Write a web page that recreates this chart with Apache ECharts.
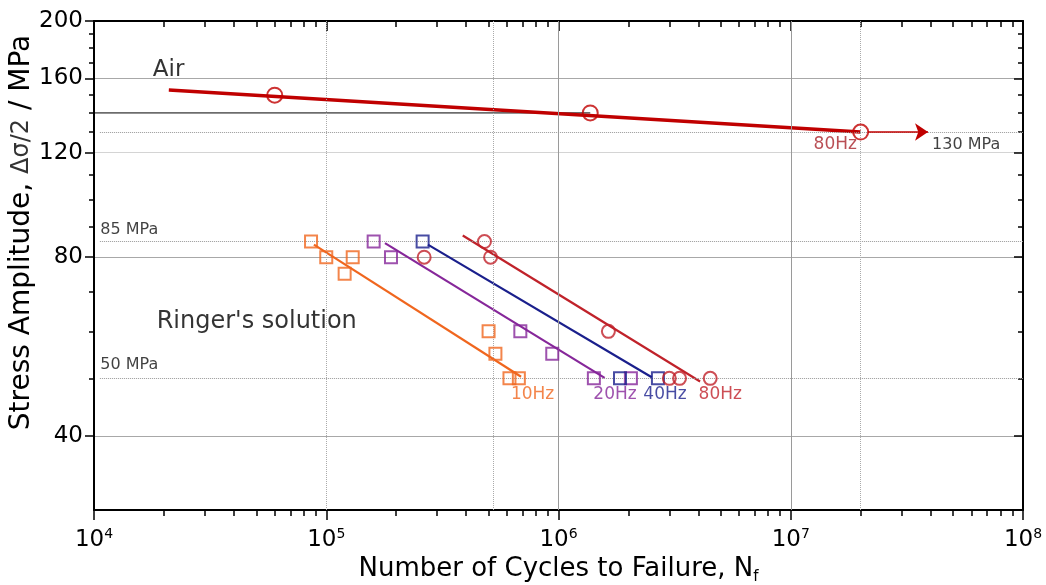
<!DOCTYPE html>
<html><head><meta charset="utf-8">
<script src="https://cdn.jsdelivr.net/npm/echarts@6/dist/echarts.min.js"></script>
<style>html,body{margin:0;padding:0;background:#fff}#c{width:1046px;height:585px}</style>
</head><body><div id="c"></div>
<script>
// ---------- data (cycles N_f, stress amplitude MPa) ----------
const xMajorTicks = [1e4, 1e5, 1e6, 1e7, 1e8];
const xMinorTicks = [2e4,3e4,4e4,5e4,6e4,7e4,8e4,9e4,
                     2e5,3e5,4e5,5e5,6e5,7e5,8e5,9e5,
                     2e6,3e6,4e6,5e6,6e6,7e6,8e6,9e6,
                     2e7,3e7,4e7,5e7,6e7,7e7,8e7,9e7];
const yMajorTicks = [40, 80, 120, 160, 200];
const yMinorTicks = [50, 60, 70, 90, 100, 110, 130, 140, 150, 170, 180, 190];
const xRange = [1e4, 1e8];
const yRange = [30, 200];

const airCycles = [6.0e4, 1.37e6, 2.0e7];
const airStress = [150, 140, 130];
const airFitCycles = [2.1e4, 2.0e7];
const airFitStress = [153, 130];
const airArrowCycles = [2.15e7, 3.9e7];
const airArrowStress = [130, 130];

const hz10Cycles = [8.6e4, 1.0e5, 1.3e5, 1.2e5, 5.0e5, 5.35e5, 6.15e5, 6.75e5];
const hz10Stress = [85, 80, 80, 75, 60, 55, 50, 50];
const hz10FitCycles = [8.85e4, 6.9e5];
const hz10FitStress = [84, 50.3];

const hz20Cycles = [1.6e5, 1.9e5, 6.85e5, 9.4e5, 1.42e6, 2.05e6];
const hz20Stress = [85, 80, 60, 55, 50, 50];
const hz20FitCycles = [1.79e5, 1.58e6];
const hz20FitStress = [84.5, 50.1];

const hz40Cycles = [2.6e5, 1.84e6, 2.68e6];
const hz40Stress = [85, 50, 50];
const hz40FitCycles = [2.74e5, 2.52e6];
const hz40FitStress = [84, 50.2];

const hz80Cycles = [2.64e5, 4.8e5, 5.1e5, 1.64e6, 3.0e6, 3.32e6, 4.5e6];
const hz80Stress = [80, 85, 80, 60, 50, 50, 50];
const hz80FitCycles = [3.87e5, 4.07e6];
const hz80FitStress = [87, 49.4];

// reference lines
const refDottedStress = [130, 85, 50];
const refDottedCycles = [1.06e4, 1e8];
const refDottedVertCycles = [1e5, 5.2e5, 2e7];
const refSolidVertCycles = [1e6, 1e7];
const blackLineCycles = [8.4e3, 1.37e6];
const blackLineStress = [140, 140];

// annotations
const annoText = ['Air', "Ringer's solution", '85 MPa', '50 MPa', '130 MPa', '80Hz', '10Hz', '20Hz', '40Hz', '80Hz'];
const annoCycles = [1.8e4, 1.87e4, 1.07e4, 1.07e4, 4.08e7, 1.26e7, 6.27e5, 1.42e6, 2.33e6, 4.03e6];
const annoStress = [165, 62.2, 88.9, 52.5, 123.6, 123.6, 46.9, 46.9, 46.9, 46.9];

// ---------- styles ----------
const FONT = 'DejaVu Sans, Liberation Sans, Arial, sans-serif';
const C_ORANGE = '#F0661E', C_PURPLE = '#86279A', C_NAVY = '#1A1F8C', C_RED = '#C0222A', C_AIR = '#C00000';
const annoSize = [23, 24, 16, 16, 16, 17, 17, 17, 17, 17];
const annoColor = ['#000', '#000', '#111', '#111', '#111', '#A8232A', C_ORANGE, C_PURPLE, C_NAVY, C_RED];

const lg = v => Math.log10(v);
const pts = (xs, ys) => xs.map((x, i) => [lg(x), lg(ys[i])]);

function scatter(name, xs, ys, symbol, size, color) {
  return { name, type: 'scatter', data: pts(xs, ys), symbol, symbolSize: size, z: 5,
    itemStyle: { color: 'rgba(255,255,255,0)', borderColor: color, borderWidth: 2 } };
}
function fit(name, xs, ys, color, width) {
  return { name, type: 'line', data: pts(xs, ys), symbol: 'none', z: 4,
    lineStyle: { color, width } };
}

const xMin = lg(xRange[0]), xMax = lg(xRange[1]);
const yMin = lg(yRange[0]), yMax = lg(yRange[1]);

function xAx(pos, ticks, len, inside, opts) {
  return Object.assign({ type: 'value', position: pos, min: xMin, max: xMax,
    axisLine: { show: false, onZero: false },
    axisTick: { show: true, inside, length: len, customValues: ticks.map(lg), lineStyle: { color: '#000', width: 1.5 } },
    axisLabel: { show: false }, splitLine: { show: false } }, opts || {});
}
function yAx(pos, ticks, len, inside, opts) {
  return Object.assign({ type: 'value', position: pos, min: yMin, max: yMax,
    axisLine: { show: false, onZero: false },
    axisTick: { show: true, inside, length: len, customValues: ticks.map(lg), lineStyle: { color: '#000', width: 1.5 } },
    axisLabel: { show: false }, splitLine: { show: false } }, opts || {});
}

const axisLineStyle = { show: true, onZero: false, lineStyle: { color: '#000', width: 2 } };

const option = {
  animation: false,
  backgroundColor: '#fff',
  grid: { left: 94, right: 23, top: 21, bottom: 75, containLabel: false, outerBoundsMode: 'none' },
  xAxis: [
    xAx('bottom', xMajorTicks, 10, false, {
      axisLine: axisLineStyle,
      axisLabel: { show: true, customValues: xMajorTicks.map(lg), margin: 17,
        formatter: v => '{b|10}{e|' + Math.round(v) + '}',
        rich: { b: { fontSize: 23, fontFamily: FONT, color: '#000', lineHeight: 26 },
                e: { fontSize: 14, fontFamily: FONT, color: '#000', lineHeight: 14, verticalAlign: 'top' } } },
      name: '{a|Number of Cycles to Failure, N}{s|f}', nameLocation: 'middle', nameGap: 41,
      nameTextStyle: { rich: { a: { fontSize: 26, fontFamily: FONT, color: '#000', lineHeight: 30 },
                               s: { fontSize: 15, fontFamily: FONT, color: '#000', lineHeight: 16, verticalAlign: 'bottom' } } }
    }),
    xAx('bottom', xMinorTicks, 6, false),
    xAx('top', xMajorTicks, 10, true, { axisLine: axisLineStyle }),
    xAx('top', xMinorTicks, 6, true)
  ],
  yAxis: [
    yAx('left', yMajorTicks, 9, false, {
      axisLine: axisLineStyle,
      axisLabel: { show: true, customValues: yMajorTicks.map(lg), margin: 11,
        formatter: v => String(Math.round(Math.pow(10, v))),
        fontSize: 23, fontFamily: FONT, color: '#000' },
      splitLine: { show: true, lineStyle: { color: ['#a8a8a8', '#a8a8a8', '#d4d4d4', '#a8a8a8', '#a8a8a8'], width: 1 } },
      name: '{a|Stress Amplitude, }{b|Δσ/2}{a| / MPa}', nameLocation: 'middle', nameGap: 58, nameRotate: 90,
      nameMoveOverlap: false,
      nameTextStyle: { padding: [0, 0, 0, 66],
        rich: { a: { fontSize: 28, fontFamily: FONT, color: '#000' },
                b: { fontSize: 24, fontFamily: FONT, color: '#333' } } }
    }),
    yAx('left', yMinorTicks, 5, false),
    yAx('right', yMajorTicks, 9, true, { axisLine: axisLineStyle }),
    yAx('right', yMinorTicks, 5, true)
  ],
  series: [
    { name: 'refs', type: 'line', data: [], z: 1, silent: true,
      markLine: { silent: true, symbol: ['none', 'none'], label: { show: false }, animation: false,
        data: [].concat(
          refDottedStress.map(s => [
            { coord: [lg(refDottedCycles[0]), lg(s)], lineStyle: { color: '#999', type: 'dotted', width: 1 } },
            { coord: [lg(refDottedCycles[1]), lg(s)] }]),
          refDottedVertCycles.map(c => ({ xAxis: lg(c), lineStyle: { color: '#aaa', type: 'dotted', width: 1 } })),
          refSolidVertCycles.map(c => ({ xAxis: lg(c), lineStyle: { color: '#9a9a9a', type: 'solid', width: 1 } }))
        ) } },
    { name: 'black', type: 'line', data: pts(blackLineCycles, blackLineStress), symbol: 'none', clip: false, z: 2,
      lineStyle: { color: '#000', width: 1 } },
    fit('Air fit', airFitCycles, airFitStress, C_AIR, 3.5),
    scatter('Air', airCycles, airStress, 'circle', 15, C_AIR),
    { name: 'Air arrow', type: 'line', data: [], z: 4,
      markLine: { silent: true, symbol: ['none', 'arrow'], symbolSize: 13, label: { show: false }, animation: false,
        lineStyle: { color: C_AIR, width: 1.6, type: 'solid' }, itemStyle: { color: C_AIR },
        data: [[{ coord: [lg(airArrowCycles[0]), lg(airArrowStress[0])] },
                { coord: [lg(airArrowCycles[1]), lg(airArrowStress[1])] }]] } },
    fit('10Hz fit', hz10FitCycles, hz10FitStress, C_ORANGE, 2.2),
    fit('20Hz fit', hz20FitCycles, hz20FitStress, C_PURPLE, 2.2),
    fit('40Hz fit', hz40FitCycles, hz40FitStress, C_NAVY, 2.2),
    fit('80Hz fit', hz80FitCycles, hz80FitStress, C_RED, 2.2),
    scatter('10Hz', hz10Cycles, hz10Stress, 'rect', 12, C_ORANGE),
    scatter('20Hz', hz20Cycles, hz20Stress, 'rect', 12, C_PURPLE),
    scatter('40Hz', hz40Cycles, hz40Stress, 'rect', 12, C_NAVY),
    scatter('80Hz', hz80Cycles, hz80Stress, 'circle', 13, C_RED),
    { name: 'annotations', type: 'scatter', symbolSize: 1, z: 10, silent: true,
      itemStyle: { color: 'rgba(0,0,0,0)' },
      data: annoText.map((t, i) => ({ name: t, value: [lg(annoCycles[i]), lg(annoStress[i])],
        label: { show: true, formatter: '{b}', position: [0, 0], align: 'left', verticalAlign: 'middle',
          fontSize: annoSize[i], fontFamily: FONT, color: annoColor[i] } })) }
  ]
};
const chart = echarts.init(document.getElementById('c'), null, { renderer: 'canvas' });
chart.setOption(option);
</script></body></html>
